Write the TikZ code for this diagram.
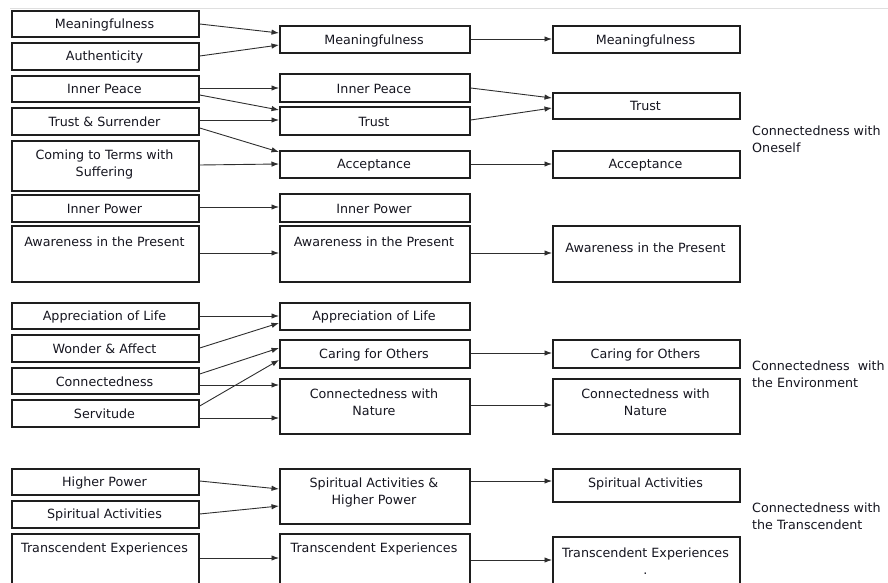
\documentclass[tikz,border=0pt]{standalone}
\usepackage{fontspec}
\setmainfont{DejaVu Sans}
\usetikzlibrary{arrows.meta}
\definecolor{txt}{HTML}{15151F}
\definecolor{edge}{HTML}{1E1E1E}
\definecolor{ln}{HTML}{2E2E2E}
\newcommand\mybox[7]{%
  \node[box, minimum width=#4pt, minimum height=#5pt] (#1) at (#2,#3) {};
  \pgfmathsetmacro\bxc{#2+#4/2}%
  \node[lbl] (#1-t) at (\bxc,#6) {#7};}
\begin{document}
\begin{tikzpicture}[x=1pt,y=-1pt,
  box/.style={draw=edge, line width=1.7pt, inner sep=0pt, anchor=north west},
  lbl/.style={text=txt, font=\fontsize{12.7pt}{17pt}\selectfont, align=center, inner sep=0pt, yshift=-1pt},
  arr/.style={draw=ln, line width=0.9pt, -{Latex[length=7.5pt,width=5.5pt]}},
  side/.style={lbl, align=left, anchor=west}]
\useasboundingbox (0,0) rectangle (888,583);
\coordinate (topA) at (10,8);
\coordinate (topB) at (888,8);
\draw[gray!25, line width=0.8pt] (topA) -- (topB);

% left column
\mybox{LMean}{11}{10}{187}{26}{23.5}{Meaningfulness}
\mybox{LAuth}{11}{42}{187}{27}{55.5}{Authenticity}
\mybox{LPeace}{11}{75}{187}{26}{88}{Inner Peace}
\mybox{LTrust}{11}{107}{187}{27}{120.5}{Trust \& Surrender}
\mybox{LComing}{11}{140}{187}{50}{163.5}{Coming to Terms with\\Suffering}
\mybox{LPower}{11}{194}{187}{27}{207.5}{Inner Power}
\mybox{LAware}{11}{225}{187}{56}{241}{Awareness in the Present}
\mybox{LAppr}{11}{302}{187}{26}{316}{Appreciation of Life}
\mybox{LWonder}{11}{334}{187}{27}{348}{Wonder \& Affect}
\mybox{LConn}{11}{367}{187}{26}{381}{Connectedness}
\mybox{LServ}{11}{399}{187}{27}{413}{Servitude}
\mybox{LHigher}{11}{468}{187}{26}{482}{Higher Power}
\mybox{LSpir}{11}{500}{187}{27}{514}{Spiritual Activities}
\mybox{LTrans}{11}{533}{187}{52}{548}{Transcendent Experiences}

% middle column
\mybox{MMean}{279}{25}{190}{27}{39.5}{Meaningfulness}
\mybox{MPeace}{279}{73}{190}{28}{88}{Inner Peace}
\mybox{MTrust}{279}{106}{190}{28}{121}{Trust}
\mybox{MAccept}{279}{150}{190}{27}{164.5}{Acceptance}
\mybox{MPower}{279}{193}{190}{28}{207.5}{Inner Power}
\mybox{MAware}{279}{225}{190}{56}{241}{Awareness in the Present}
\mybox{MAppr}{279}{302}{190}{27}{316}{Appreciation of Life}
\mybox{MCaring}{279}{339}{190}{28}{353.5}{Caring for Others}
\mybox{MNature}{279}{378}{190}{55}{401}{Connectedness with\\Nature}
\mybox{MSpirHP}{279}{468}{190}{55}{491.5}{Spiritual Activities \&\\Higher Power}
\mybox{MTrans}{279}{533}{190}{52}{547.5}{Transcendent Experiences}

% right column
\mybox{RMean}{552}{25}{187}{27}{39.5}{Meaningfulness}
\mybox{RTrust}{552}{92}{187}{26}{104.5}{Trust}
\mybox{RAccept}{552}{150}{187}{27}{164.5}{Acceptance}
\mybox{RAware}{552}{225}{187}{56}{247}{Awareness in the Present}
\mybox{RCaring}{552}{339}{187}{28}{353.5}{Caring for Others}
\mybox{RNature}{552}{378}{187}{55}{401}{Connectedness with\\Nature}
\mybox{RSpir}{552}{468}{187}{33}{482.5}{Spiritual Activities}
\mybox{RTrans}{552}{536}{187}{49}{560}{Transcendent Experiences\\.}

% side labels
\node[side] (S1) at (752,138.5) {Connectedness with\\Oneself};
\node[side] (S2) at (752,373) {Connectedness~ with\\the Environment};
\node[side] (S3) at (752,515.5) {Connectedness with\\the Transcendent};

% left -> middle
\draw[arr] (LMean.east |- 0,24) -- (MMean.west |- 0,33);
\draw[arr] (LAuth.east |- 0,56) -- (MMean.west |- 0,45);
\draw[arr] (LPeace.east |- 0,88) -- (MPeace.west |- 0,88);
\draw[arr] (LPeace.east |- 0,95) -- (MTrust.west |- 0,110);
\draw[arr] (LTrust.east |- 0,120) -- (MTrust.west |- 0,120);
\draw[arr] (LTrust.east |- 0,128) -- (MAccept.west |- 0,152);
\draw[arr] (LComing.east |- 0,165) -- (MAccept.west |- 0,164);
\draw[arr] (LPower.east |- 0,207) -- (MPower.west |- 0,207);
\draw[arr] (LAware.east |- 0,253) -- (MAware.west |- 0,253);
\draw[arr] (LAppr.east |- 0,316) -- (MAppr.west |- 0,316);
\draw[arr] (LWonder.east |- 0,348) -- (MAppr.west |- 0,323);
\draw[arr] (LConn.east |- 0,374) -- (MCaring.west |- 0,348);
\draw[arr] (LServ.east |- 0,406) -- (MCaring.west |- 0,360);
\draw[arr] (LConn.east |- 0,385) -- (MNature.west |- 0,385);
\draw[arr] (LServ.east |- 0,418) -- (MNature.west |- 0,418);
\draw[arr] (LHigher.east |- 0,481) -- (MSpirHP.west |- 0,489);
\draw[arr] (LSpir.east |- 0,514) -- (MSpirHP.west |- 0,506);
\draw[arr] (LTrans.east |- 0,558) -- (MTrans.west |- 0,558);

% middle -> right
\draw[arr] (MMean.east |- 0,39) -- (RMean.west |- 0,39);
\draw[arr] (MPeace.east |- 0,88) -- (RTrust.west |- 0,98);
\draw[arr] (MTrust.east |- 0,120) -- (RTrust.west |- 0,108);
\draw[arr] (MAccept.east |- 0,164) -- (RAccept.west |- 0,164);
\draw[arr] (MAware.east |- 0,253) -- (RAware.west |- 0,253);
\draw[arr] (MCaring.east |- 0,353) -- (RCaring.west |- 0,353);
\draw[arr] (MNature.east |- 0,405) -- (RNature.west |- 0,405);
\draw[arr] (MSpirHP.east |- 0,481) -- (RSpir.west |- 0,481);
\draw[arr] (MTrans.east |- 0,560) -- (RTrans.west |- 0,560);
\end{tikzpicture}
\end{document}
